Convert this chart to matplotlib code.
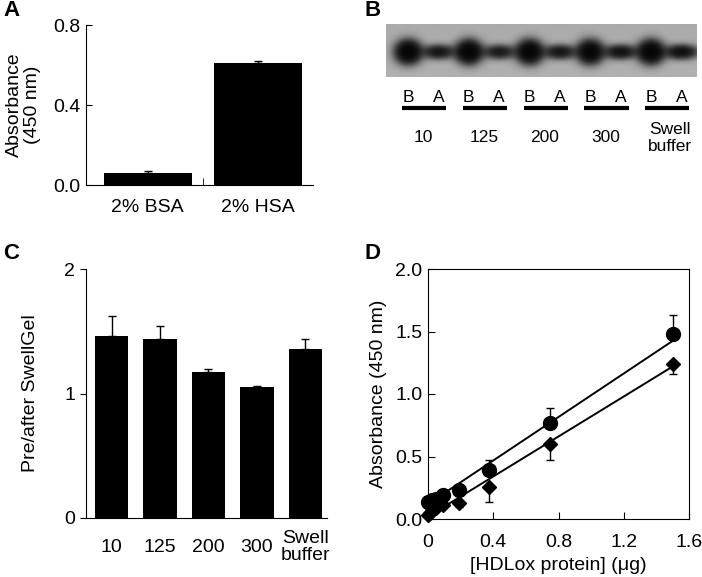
import matplotlib.pyplot as plt
import numpy as np

plt.rcParams['font.family'] = ['Liberation Sans', 'DejaVu Sans']
plt.rcParams['font.size'] = 14

# panel A
a_labels = ["2% BSA", "2% HSA"]
a_values = [0.062, 0.612]
a_errors = [0.006, 0.008]

# panel B (gel) - relative band strength, B = before, A = after
b_groups = ["10", "125", "200", "300", "Swell\nbuffer"]
b_before = [1.0, 1.0, 1.0, 0.95, 1.0]
b_after = [0.55, 0.5, 0.55, 0.6, 0.65]

# panel C
c_labels = ["10", "125", "200", "300", "Swell\nbuffer"]
c_values = [1.46, 1.44, 1.17, 1.05, 1.36]
c_errors = [0.16, 0.10, 0.03, 0.01, 0.08]

# panel D
d_x = [0, 0.012, 0.023, 0.047, 0.094, 0.1875, 0.375, 0.75, 1.5]
d_circle = [0.14, 0.14, 0.15, 0.16, 0.19, 0.23, 0.39, 0.77, 1.48]
d_circle_err = [0.02, 0.02, 0.02, 0.02, 0.03, 0.03, 0.08, 0.12, 0.15]
d_diamond = [0.03, 0.05, 0.07, 0.09, 0.11, 0.13, 0.26, 0.60, 1.24]
d_diamond_err = [0.01, 0.01, 0.01, 0.02, 0.02, 0.03, 0.12, 0.13, 0.08]
circle_fit = (0.87, 0.12)
diamond_fit = (0.80, 0.02)

W, H = 702, 577
fig = plt.figure(figsize=(W / 100, H / 100), dpi=100)


def px_axes(left, top, right, bottom):
    return fig.add_axes([left / W, 1 - bottom / H, (right - left) / W, (bottom - top) / H])


# ---- A ----
ax = px_axes(86, 25, 313, 185)
xa = np.arange(len(a_values))
ax.bar(xa, a_values, width=0.8, color="black")
ax.errorbar(xa, a_values, yerr=[np.zeros(len(a_errors)), a_errors], fmt="none",
            ecolor="black", elinewidth=1, capsize=3)
ax.set_xlim(-0.56, 1.5)
ax.set_ylim(0, 0.8)
ax.set_yticks([0, 0.4, 0.8])
ax.set_yticklabels(["0.0", "0.4", "0.8"])
ax.set_xticks(xa)
ax.set_xticklabels(a_labels, va="center")
ax.set_xticks([0.5], minor=True)
ax.tick_params(axis="x", which="major", length=0, pad=16)
ax.tick_params(axis="x", which="minor", direction="in", length=5)
ax.tick_params(axis="y", direction="in", length=4, pad=4)
ax.set_ylabel("Absorbance\n(450 nm)", labelpad=9, linespacing=1.05)
for s in ["top", "right"]:
    ax.spines[s].set_visible(False)

# ---- B ----
axb = px_axes(386, 24, 697, 160)
axb.set_xlim(-0.72, 9.5)
axb.set_ylim(160, 24)
axb.axis("off")
gx = np.linspace(-0.72, 9.5, 311)
gy = np.linspace(24, 77, 53)
GX, GY = np.meshgrid(gx, gy)
dark = np.zeros_like(GX)
for g in range(len(b_groups)):
    lb = 2 * g
    la = 2 * g + 1
    dark += 4.0 * b_before[g] * np.exp(-((GX - lb) / 0.36) ** 2 - ((GY - 52) / 10) ** 2)
    dark += 4.0 * b_after[g] * np.exp(-((GX - la) / 0.46) ** 2 - ((GY - 52) / 6.2) ** 2)
gel = 0.67 * np.exp(-dark) + 0.02 * (GY - 24) / 53
axb.imshow(gel, cmap="gray", vmin=0, vmax=1, extent=(-0.72, 9.5, 77, 24),
           aspect="auto", interpolation="bilinear")
for g, name in enumerate(b_groups):
    lb = 2 * g
    axb.text(lb, 98, "B", ha="center", va="center", fontsize=12.5)
    axb.text(lb + 1, 98, "A", ha="center", va="center", fontsize=12.5)
    axb.plot([lb - 0.2, lb + 1.25], [108, 108], color="black", lw=3, solid_capstyle="butt")
    axb.text(lb + 0.5 + (0.1 if "\n" in name else 0), 138, name, ha="center", va="center",
             fontsize=12.5, linespacing=1.1)

# ---- C ----
axc = px_axes(86, 269, 327, 518)
xc = np.arange(len(c_values))
axc.bar(xc, c_values, width=0.69, color="black")
axc.errorbar(xc, c_values, yerr=[np.zeros(len(c_errors)), c_errors], fmt="none",
             ecolor="black", elinewidth=1, capsize=3)
axc.set_xlim(-0.53, 4.45)
axc.set_ylim(0, 2)
axc.set_yticks([0, 1, 2])
axc.set_yticklabels(["0", "1", "2"])
axc.set_xticks(xc)
axc.set_xticklabels(c_labels, va="center", linespacing=1.0)
axc.tick_params(axis="x", length=0, pad=21)
axc.tick_params(axis="y", direction="out", length=4, pad=4)
axc.set_ylabel("Pre/after SwellGel", labelpad=18)
for s in ["top", "right"]:
    axc.spines[s].set_visible(False)

# ---- D ----
axd = px_axes(428, 269, 689, 519)
xd = np.array(d_x)
xl = np.array([0, 1.5])
axd.plot(xl, circle_fit[0] * xl + circle_fit[1], color="black", lw=1.4)
axd.plot(xl, diamond_fit[0] * xl + diamond_fit[1], color="black", lw=1.4)
axd.errorbar(xd, d_circle, yerr=[np.zeros(len(d_circle_err)), d_circle_err], fmt="o",
             color="black", ms=10, elinewidth=1, capsize=3, clip_on=False)
axd.errorbar(xd, d_diamond, yerr=[d_diamond_err, np.zeros(len(d_diamond_err))], fmt="D",
             color="black", ms=7.5, elinewidth=1, capsize=3, clip_on=False)
axd.set_xlim(0, 1.6)
axd.set_ylim(0, 2)
axd.set_xticks([0, 0.4, 0.8, 1.2, 1.6])
axd.set_xticklabels(["0", "0.4", "0.8", "1.2", "1.6"], va="center")
axd.set_yticks([0, 0.5, 1.0, 1.5, 2.0])
axd.set_yticklabels(["0.0", "0.5", "1.0", "1.5", "2.0"])
axd.tick_params(direction="in", length=5)
axd.tick_params(axis="x", pad=17)
axd.tick_params(axis="y", pad=4)
axd.set_xlabel("[HDLox protein] (\u03bcg)", labelpad=4)
axd.set_ylabel("Absorbance (450 nm)", labelpad=6)

for letter, x, y in [("A", 3, 11), ("B", 365, 11), ("C", 3, 253), ("D", 365, 253)]:
    fig.text(x / W, 1 - y / H, letter, fontsize=16, fontweight="bold", va="center")

plt.savefig("out.png", dpi=100)
plt.close()
